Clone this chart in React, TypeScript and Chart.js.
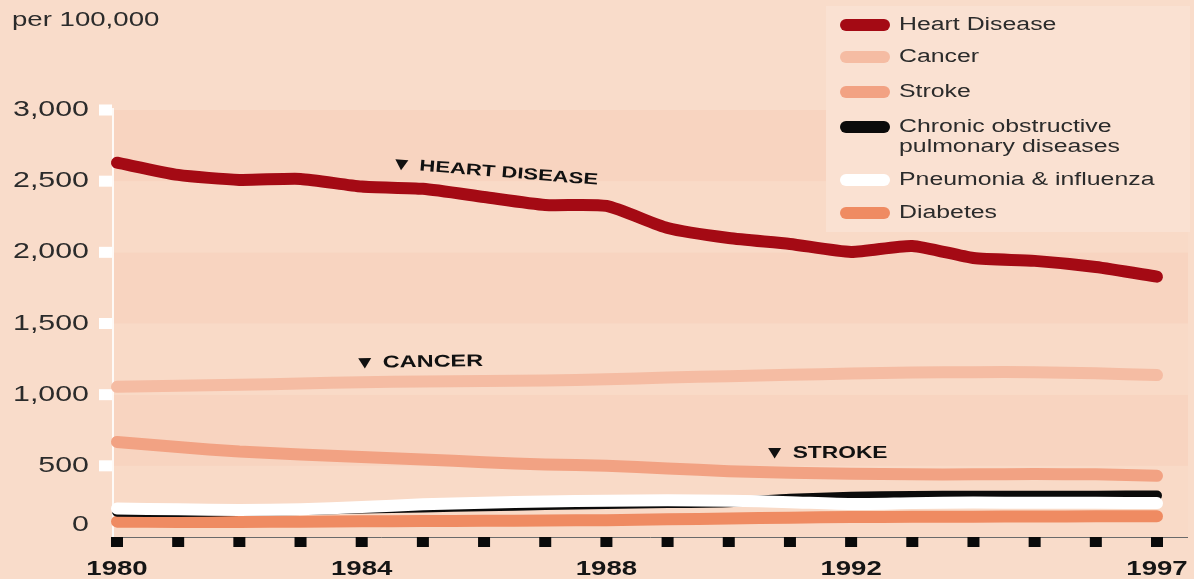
import React, { useEffect, useRef } from "react";
import { Chart, registerables } from "chart.js";

Chart.register(...registerables);

// Death rates per 100,000, 1980–1997
const years = [1980, 1981, 1982, 1983, 1984, 1985, 1986, 1987, 1988, 1989, 1990, 1991, 1992, 1993, 1994, 1995, 1996, 1997];
const heartDisease = [2630, 2544, 2509, 2516, 2462, 2446, 2389, 2333, 2326, 2171, 2101, 2059, 2003, 2045, 1960, 1940, 1897, 1829];
const cancer = [1055, 1063, 1070, 1078, 1088, 1092, 1096, 1100, 1108, 1120, 1130, 1140, 1148, 1155, 1158, 1158, 1150, 1138];
const stroke = [668, 632, 600, 580, 562, 545, 525, 510, 500, 482, 462, 452, 445, 440, 440, 442, 440, 430];
const copd = [178, 175, 182, 190, 200, 208, 216, 224, 232, 238, 245, 268, 282, 288, 290, 290, 290, 292];
const pneumonia = [200, 195, 190, 195, 210, 230, 240, 250, 255, 258, 255, 245, 232, 238, 242, 240, 240, 238];
const diabetes = [108, 106, 106, 108, 110, 112, 114, 116, 118, 124, 130, 136, 140, 142, 143, 144, 145, 145];

const yTicks = [0, 500, 1000, 1500, 2000, 2500, 3000];
const yearLabels = [1980, 1984, 1988, 1992, 1997];

const seriesNames = ["Heart Disease", "Cancer", "Stroke", "Chronic obstructive\npulmonary diseases", "Pneumonia & influenza", "Diabetes"];
const seriesColors = ["#a40a14", "#f5bca3", "#f2a283", "#0b0b0b", "#ffffff", "#ef8b62"];

const PAGE_BG = "#f9dcca";
const BAND_DARK = "#f8d4c0";
const BAND_LIGHT = "#f9dac7";
const TEXT = "#2b2b2b";
const FONT = '"Liberation Sans", Arial, sans-serif';
const STRETCH = 1.38;

function drawText(
  ctx: CanvasRenderingContext2D,
  text: string,
  x: number,
  y: number,
  font: string,
  align: "left" | "right" | "center",
  color: string
) {
  ctx.save();
  ctx.font = font;
  ctx.fillStyle = color;
  ctx.textBaseline = "middle";
  ctx.textAlign = "left";
  const w = ctx.measureText(text).width * STRETCH;
  const left = align === "right" ? x - w : align === "center" ? x - w / 2 : x;
  ctx.translate(left, y);
  ctx.scale(STRETCH, 1);
  ctx.fillText(text, 0, 0);
  ctx.restore();
}

function drawMarker(ctx: CanvasRenderingContext2D, x: number, y: number, angle: number, label: string, size: number) {
  ctx.save();
  ctx.translate(x, y);
  ctx.rotate(angle);
  ctx.fillStyle = "#111";
  ctx.beginPath();
  ctx.moveTo(-6.5, -5);
  ctx.lineTo(6.5, -5);
  ctx.lineTo(0, 5.5);
  ctx.closePath();
  ctx.fill();
  drawText(ctx, label, 18, 0, `bold ${size}px ${FONT}`, "left", "#111");
  ctx.restore();
}

const decorPlugin = {
  id: "decor",
  beforeDraw(chart: any) {
    const { ctx, chartArea, scales } = chart;
    const xs = scales.x;
    const ys = scales.y;
    const W = chart.width;
    const H = chart.height;
    ctx.save();
    ctx.fillStyle = PAGE_BG;
    ctx.fillRect(0, 0, W, H);

    // horizontal bands every 500
    const bandLeft = chartArea.left - 4;
    const bandRight = chartArea.right + 31;
    for (let i = 0; i < yTicks.length - 1; i++) {
      const yTop = ys.getPixelForValue(yTicks[i + 1]);
      const yBot = ys.getPixelForValue(yTicks[i]);
      ctx.fillStyle = i % 2 === 1 ? BAND_DARK : BAND_LIGHT;
      ctx.fillRect(bandLeft, yTop, bandRight - bandLeft, yBot - yTop);
    }

    // legend panel
    ctx.fillStyle = "#fae1d2";
    ctx.fillRect(826, 6, 364, 226);

    // y axis: white rule and square ticks
    ctx.fillStyle = "rgba(255,255,255,0.85)";
    const axisTop = ys.getPixelForValue(3000) - 2;
    ctx.fillRect(bandLeft - 1, axisTop, 2, chartArea.bottom - axisTop);
    ctx.fillStyle = "#ffffff";
    yTicks.forEach((v) => {
      if (v === 0) return;
      const py = ys.getPixelForValue(v);
      ctx.fillRect(99, py - 5.5, 13, 11);
    });
    yTicks.forEach((v) => {
      const py = ys.getPixelForValue(v) - (v === 0 ? 12 : 0);
      drawText(ctx, v.toLocaleString("en-US"), 89, py, `22px ${FONT}`, "right", TEXT);
    });

    // x axis line, square ticks, year labels
    ctx.strokeStyle = "#6a6a6a";
    ctx.lineWidth = 1;
    ctx.beginPath();
    ctx.moveTo(bandLeft, chartArea.bottom + 0.5);
    ctx.lineTo(bandRight, chartArea.bottom + 0.5);
    ctx.stroke();
    ctx.fillStyle = "#0a0a0a";
    years.forEach((yr) => {
      const px = xs.getPixelForValue(yr);
      ctx.fillRect(px - 6, chartArea.bottom, 12, 10);
    });
    yearLabels.forEach((yr) => {
      const px = xs.getPixelForValue(yr);
      drawText(ctx, String(yr), px, chartArea.bottom + 32, `bold 20px ${FONT}`, "center", "#151515");
    });

    // unit label
    drawText(ctx, "per 100,000", 12, 20, `20px ${FONT}`, "left", TEXT);

    // legend
    const rows = [25, 57, 92, 127, 180, 213];
    seriesNames.forEach((name, i) => {
      const y = rows[i];
      ctx.strokeStyle = seriesColors[i];
      ctx.lineWidth = 12;
      ctx.lineCap = "round";
      ctx.beginPath();
      ctx.moveTo(846, y);
      ctx.lineTo(884, y);
      ctx.stroke();
      name.split("\n").forEach((line, j) => {
        drawText(ctx, line, 899, y + j * 20, `18px ${FONT}`, "left", TEXT);
      });
    });
    ctx.restore();
  },
  afterDatasetsDraw(chart: any) {
    const { ctx, scales } = chart;
    const xs = scales.x;
    const ys = scales.y;
    drawMarker(ctx, xs.getPixelForValue(1984.65), ys.getPixelForValue(2615), 0.079, "HEART DISEASE", 16);
    drawMarker(ctx, xs.getPixelForValue(1984.05), ys.getPixelForValue(1222), -0.014, "CANCER", 17);
    drawMarker(ctx, xs.getPixelForValue(1990.75), ys.getPixelForValue(590), 0, "STROKE", 16.5);
  },
};

function toPoints(values: number[]) {
  return values.map((v, i) => ({ x: years[i], y: v }));
}

export default function App() {
  const canvasRef = useRef<HTMLCanvasElement | null>(null);

  useEffect(() => {
    document.body.style.margin = "0";
    document.body.style.background = PAGE_BG;
    const canvas = canvasRef.current;
    if (!canvas) return;

    const seriesValues = [heartDisease, cancer, stroke, copd, pneumonia, diabetes];
    const widths = [12, 12, 12, 10, 12, 12];
    const orders = [0, 5, 4, 2, 1, 3];

    const chart = new Chart(canvas, {
      type: "line",
      data: {
        datasets: seriesValues.map((vals, i) => ({
          label: seriesNames[i],
          data: toPoints(vals),
          borderColor: seriesColors[i],
          backgroundColor: seriesColors[i],
          borderWidth: widths[i],
          borderCapStyle: "round" as const,
          borderJoinStyle: "round" as const,
          pointRadius: 0,
          tension: 0.2,
          fill: false,
          clip: false as any,
          order: orders[i],
        })),
      },
      options: {
        animation: false,
        responsive: true,
        maintainAspectRatio: false,
        layout: { padding: { left: 117, right: 37, top: 110, bottom: 42 } },
        plugins: { legend: { display: false }, tooltip: { enabled: false } },
        scales: {
          x: { type: "linear", min: 1980, max: 1997, display: false },
          y: { type: "linear", min: 0, max: 3000, display: false },
        },
      },
      plugins: [decorPlugin],
    });

    return () => chart.destroy();
  }, []);

  return (
    <div style={{ position: "relative", width: 1194, height: 579 }}>
      <canvas ref={canvasRef} />
    </div>
  );
}
